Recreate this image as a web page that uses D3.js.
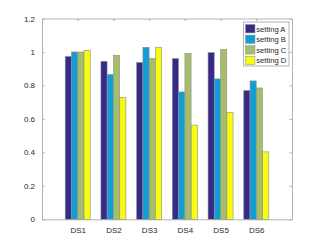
<!DOCTYPE html>
<html>
<head>
<meta charset="utf-8">
<script src="https://cdn.jsdelivr.net/npm/d3@7"></script>
<style>
  body { margin: 0; background: #fff; }
  text { font-family: "Liberation Sans", Arial, sans-serif; }
</style>
</head>
<body>
<script>
const categories = ['DS1', 'DS2', 'DS3', 'DS4', 'DS5', 'DS6'];
const seriesNames = ['setting A', 'setting B', 'setting C', 'setting D'];
const settingA = [0.973, 0.944, 0.937, 0.961, 0.996, 0.770];
const settingB = [1.000, 0.865, 1.028, 0.761, 0.839, 0.827];
const settingC = [1.000, 0.980, 0.961, 0.992, 1.014, 0.785];
const settingD = [1.008, 0.728, 1.028, 0.563, 0.638, 0.403];
const yTicks = [0, 0.2, 0.4, 0.6, 0.8, 1, 1.2];
const colors = ['#352a87', '#0f9ed5', '#a5be6a', '#f9fb0e'];

const series = [settingA, settingB, settingC, settingD];
const width = 324, height = 247;
const plotL = 42, plotR = 292, plotT = 18.5, plotB = 219.3;
const axisColor = '#a0a0a0';

const svg = d3.select('body').append('svg')
  .attr('width', width)
  .attr('height', height);

const x = d3.scaleLinear().domain([0, 7]).range([plotL, plotR]);
const y = d3.scaleLinear().domain([0, 1.2]).range([plotB, plotT]);

const barW = 0.172, step = 0.176;

// bars
series.forEach((vals, s) => {
  svg.append('g')
    .selectAll('rect')
    .data(vals)
    .enter().append('rect')
    .attr('x', (d, i) => x(i + 1 + (s - 1.5) * step - barW / 2))
    .attr('width', x(barW) - x(0))
    .attr('y', d => y(d))
    .attr('height', d => y(0) - y(d))
    .attr('fill', colors[s])
    .attr('stroke', '#8c8c8c')
    .attr('stroke-width', 0.6);
});

// axes
const fmt = d => d3.format('')(d);
const yAxis = svg.append('g')
  .attr('transform', `translate(${plotL},0)`)
  .call(d3.axisLeft(y).tickValues(yTicks).tickFormat(fmt).tickSizeInner(-2.5).tickSizeOuter(0).tickPadding(7));
const yAxisR = svg.append('g')
  .attr('transform', `translate(${plotR},0)`)
  .call(d3.axisRight(y).tickValues(yTicks).tickFormat('').tickSizeInner(-2.5).tickSizeOuter(0));
const xAxis = svg.append('g')
  .attr('transform', `translate(0,${plotB})`)
  .call(d3.axisBottom(x).tickValues(d3.range(1, 7)).tickFormat((d, i) => categories[i]).tickSizeInner(-2.5).tickSizeOuter(0).tickPadding(8));
const xAxisT = svg.append('g')
  .attr('transform', `translate(0,${plotT})`)
  .call(d3.axisTop(x).tickValues(d3.range(1, 7)).tickFormat('').tickSizeInner(-2.5).tickSizeOuter(0));

[yAxis, yAxisR, xAxis, xAxisT].forEach(g => {
  g.selectAll('path').attr('stroke', axisColor).attr('stroke-width', 0.8);
  g.selectAll('line').attr('stroke', axisColor).attr('stroke-width', 0.8);
  g.selectAll('text').attr('fill', '#262626').style('font-size', '8px');
});

// legend
const lg = svg.append('g');
lg.append('rect')
  .attr('x', 243.5).attr('y', 22)
  .attr('width', 45.5).attr('height', 44)
  .attr('fill', '#fff')
  .attr('stroke', axisColor)
  .attr('stroke-width', 0.8);
seriesNames.forEach((name, s) => {
  const cy = 28.7 + s * 10.6;
  lg.append('rect')
    .attr('x', 245.5).attr('y', cy - 4.2)
    .attr('width', 9.5).attr('height', 8.4)
    .attr('fill', colors[s])
    .attr('stroke', '#8c8c8c')
    .attr('stroke-width', 0.5);
  lg.append('text')
    .attr('x', 256.3).attr('y', cy + 2.8)
    .attr('fill', '#262626')
    .style('font-size', '7.6px')
    .text(name);
});
</script>
</body>
</html>
